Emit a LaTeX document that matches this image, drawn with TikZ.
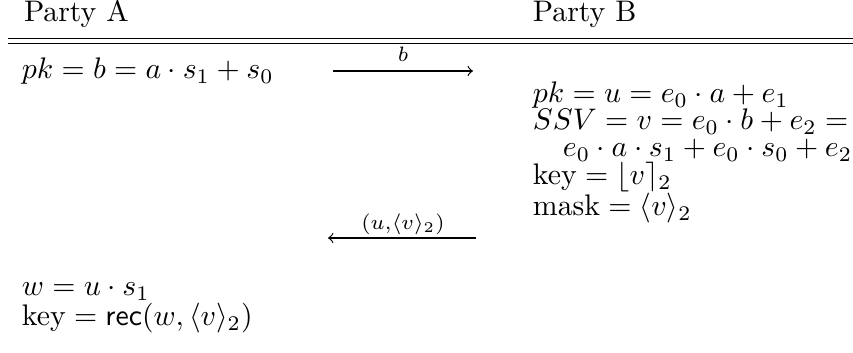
\documentclass[tikz,border=0pt]{standalone}
\usepackage{amsmath}
\begin{document}
\begin{tikzpicture}[x=0.336pt,y=-0.336pt,
  txt/.style={anchor=base west, inner sep=0pt, outer sep=0pt},
  rulestyle/.style={line width=0.4pt},
  msg/.style={-to, line width=0.4pt},
  msglabel/.style={anchor=base, inner sep=0pt}]
\useasboundingbox (0,0) rectangle (853,353);

% column headings and the double rule beneath them
\node[txt] (pa) at (24,22) {Party A};
\node[txt] (pb) at (533,22) {Party B};
\coordinate (ruleL1) at (8,38.5);
\coordinate (ruleR1) at (853,38.5);
\coordinate (ruleL2) at (8,43.5);
\coordinate (ruleR2) at (853,43.5);
\draw[rulestyle] (ruleL1) -- (ruleR1);
\draw[rulestyle] (ruleL2) -- (ruleR2);

% Party A: key generation
\node[txt] (a1) at (22,79) {$pk = b = a \cdot s_1 + s_0$};

% first message A -> B
\coordinate (m1s) at (333,71);
\coordinate (m1e) at (473,71);
\draw[msg] (m1s) -- (m1e);
\node[msglabel] (m1l) at (403,62) {$\scriptstyle b$};

% Party B: computations
\node[txt] (b1) at (533,103) {$pk = u = e_0 \cdot a + e_1$};
\node[txt] (b2) at (533,130) {$SSV = v = e_0 \cdot b + e_2 =$};
\node[txt] (b3) at (563,157) {$e_0 \cdot a \cdot s_1 + e_0 \cdot s_0 + e_2$};
\node[txt] (b4) at (533,185) {$\text{key} = \lfloor v \rceil_2$};
\node[txt] (b5) at (533,216) {$\text{mask} = \langle v \rangle_2$};

% second message B -> A
\coordinate (m2s) at (476,238);
\coordinate (m2e) at (328,238);
\draw[msg] (m2s) -- (m2e);
\node[msglabel] (m2l) at (403,230) {$\scriptstyle (u,\langle v\rangle_2)$};

% Party A: key recovery
\node[txt] (a2) at (22,296) {$w = u \cdot s_1$};
\node[txt] (a3) at (22,326) {$\text{key} = \mathsf{rec}(w, \langle v \rangle_2)$};
\end{tikzpicture}
\end{document}
